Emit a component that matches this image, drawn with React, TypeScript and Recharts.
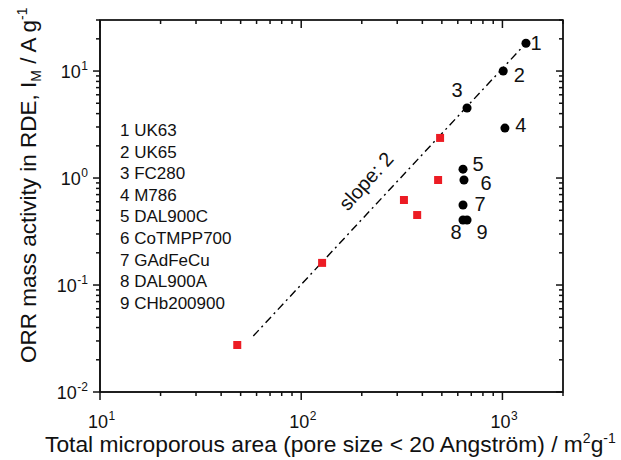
import { LabelList, ReferenceArea, Scatter, ScatterChart, XAxis, YAxis, ZAxis } from "recharts"

const FONT = "'Liberation Sans', Arial, sans-serif"
const AXIS = "#111"
const RED = "#ec1c24"

// catalysts with labels 1..9 (black circles)
const catalystNames = ["UK63", "UK65", "FC280", "M786", "DAL900C", "CoTMPP700", "GAdFeCu", "DAL900A", "CHb200900"]
const catalystArea = [1309, 1009, 667, 1029, 637, 644, 637, 637, 667]
const catalystActivity = [18.2, 10.0, 4.51, 2.93, 1.21, 0.958, 0.56, 0.405, 0.405]

// red squares
const redArea = [48.1, 127, 324, 377, 479, 490]
const redActivity = [0.0275, 0.161, 0.623, 0.451, 0.958, 2.37]

// slope 2 guide line end points
const slopeArea = [57.8, 1309]
const slopeActivity = [0.0334, 18.2]

const xTicks = [10, 20, 30, 40, 50, 60, 70, 80, 90, 100, 200, 300, 400, 500, 600, 700, 800, 900, 1000, 2000]
const yTicks = [
  0.01, 0.02, 0.03, 0.04, 0.05, 0.06, 0.07, 0.08, 0.09,
  0.1, 0.2, 0.3, 0.4, 0.5, 0.6, 0.7, 0.8, 0.9,
  1, 2, 3, 4, 5, 6, 7, 8, 9,
  10, 20, 30,
]

// label offset (dx, dy) of each number relative to its point
const numberOffsets = [
  [10, 0], [16, 4], [-10, -18], [16, -3], [15, -5], [22, 3], [17, -1], [-7, 12], [15, 12],
]

const catalystData = catalystArea.map((x, i) => ({ x, y: catalystActivity[i], id: i + 1 }))
const redData = redArea.map((x, i) => ({ x, y: redActivity[i] }))
const slopeData = slopeArea.map((x, i) => ({ x, y: slopeActivity[i] }))

// plot box size (chart 613x452, margins + axis sizes below)
const PLOT_W = 463
const PLOT_H = 372

const isMajor = (v: number) => Math.abs(Math.log10(v) - Math.round(Math.log10(v))) < 1e-6
const exponent = (v: number) => String(Math.round(Math.log10(v)))
const expWidth = (s: string) => s.length * 6.7 - (s.startsWith("-") ? 2.7 : 0)

// bottom ticks point down, top ones (mirrored) point down into the plot
const bottomTick = (props: any) => {
  const { x, y, payload } = props
  const major = isMajor(payload.value)
  const len = major ? 8 : 4
  return (
    <g>
      <line x1={x} x2={x} y1={y} y2={y + len} stroke={AXIS} strokeWidth={1.5} />
      <line x1={x} x2={x} y1={y - PLOT_H} y2={y - PLOT_H + len} stroke={AXIS} strokeWidth={1.5} />
      {major && (
        <text x={x + 8} y={y + 36} textAnchor="end" fontSize={18} fill="#111" fontFamily={FONT}>
          10
        </text>
      )}
      {major && (
        <text x={x + 8.5} y={y + 28} fontSize={12} fill="#111" fontFamily={FONT}>
          {exponent(payload.value)}
        </text>
      )}
    </g>
  )
}

// left ticks point out, right ones (mirrored) point into the plot
const leftTick = (props: any) => {
  const { x, y, payload } = props
  const major = isMajor(payload.value)
  const len = major ? 7 : 4
  const exp = exponent(payload.value)
  return (
    <g>
      <line x1={x} x2={x - len} y1={y} y2={y} stroke={AXIS} strokeWidth={1.5} />
      <line x1={x + PLOT_W} x2={x + PLOT_W - len} y1={y} y2={y} stroke={AXIS} strokeWidth={1.5} />
      {major && (
        <text x={x - 12 - expWidth(exp) - 0.5} y={y + 6.5} textAnchor="end" fontSize={18} fill="#111" fontFamily={FONT}>
          10
        </text>
      )}
      {major && (
        <text x={x - 12} y={y - 1.5} textAnchor="end" fontSize={12} fill="#111" fontFamily={FONT}>
          {exp}
        </text>
      )}
    </g>
  )
}

const numberLabel = (props: any) => {
  const vb = props.viewBox && props.viewBox.width != null ? props.viewBox : props
  const cx = vb.x + vb.width / 2
  const cy = vb.y + vb.height / 2
  const id = Number(props.value)
  const [dx, dy] = numberOffsets[id - 1] || [10, 0]
  return (
    <text x={cx + dx} y={cy + dy + 7} textAnchor="middle" fontSize={20} fill="#111" fontFamily={FONT}>
      {id}
    </text>
  )
}

export default function App() {
  return (
    <>
      <ScatterChart width={613} height={452} margin={{ top: 2, right: 48, bottom: 0, left: 0 }}>
        <XAxis
          dataKey="x"
          type="number"
          scale="log"
          domain={[10, 2000]}
          allowDataOverflow
          ticks={xTicks}
          interval={0}
          height={68}
          tickSize={0}
          tickMargin={0}
          tickLine={false}
          axisLine={{ stroke: AXIS, strokeWidth: 1.6 }}
          tick={bottomTick}
        />
        <XAxis
          xAxisId="top"
          dataKey="x"
          orientation="top"
          type="number"
          scale="log"
          domain={[10, 2000]}
          allowDataOverflow
          ticks={xTicks}
          interval={0}
          height={10}
          tickSize={5}
          tickLine={{ stroke: AXIS }}
          tick={false}
          stroke={AXIS}
        />
        <YAxis
          dataKey="y"
          type="number"
          scale="log"
          domain={[0.01, 30]}
          allowDataOverflow
          ticks={yTicks}
          interval={0}
          width={92}
          tickSize={0}
          tickMargin={0}
          tickLine={false}
          axisLine={{ stroke: AXIS, strokeWidth: 1.6 }}
          tick={leftTick}
        />
        <YAxis
          yAxisId="right"
          dataKey="y"
          orientation="right"
          type="number"
          scale="log"
          domain={[0.01, 30]}
          allowDataOverflow
          ticks={yTicks}
          interval={0}
          width={10}
          tickSize={5}
          tickLine={{ stroke: AXIS }}
          tick={false}
          stroke={AXIS}
        />
        <ZAxis range={[113, 113]} />
        <ReferenceArea
          x1={10}
          x2={2000}
          y1={0.01}
          y2={30}
          fill="none"
          fillOpacity={0}
          stroke={AXIS}
          strokeWidth={1.6}
          ifOverflow="visible"
        />
        <Scatter
          xAxisId="top"
          yAxisId="right"
          data={slopeData}
          isAnimationActive={false}
          line={{ stroke: "#000", strokeWidth: 1.4, strokeDasharray: "8 4 2 4" }}
          shape={() => <g />}
        />
        <Scatter data={redData} isAnimationActive={false} shape="square" fill={RED} />
        <Scatter data={catalystData} isAnimationActive={false} shape="circle" fill="#000">
          <LabelList dataKey="id" content={numberLabel} />
        </Scatter>
      </ScatterChart>

      <svg
        width={613}
        height={452}
        style={{ position: "absolute", left: 8, top: 8, pointerEvents: "none" }}
        fontFamily={FONT}
        fill="#111"
      >
        <text transform="translate(358,173) rotate(-48)" y={7} textAnchor="middle" fontSize={20}>
          slope: 2
        </text>
        {catalystNames.map((name, i) => (
          <text key={name} x={112} y={128 + i * 21.6} fontSize={17}>
            {i + 1} {name}
          </text>
        ))}
        <text x={37} y={444} fontSize={22.8}>
          Total microporous area (pore size &lt; 20 Angström) / m
          <tspan dy={-9} fontSize={14}>2</tspan>
          <tspan dy={9}>g</tspan>
          <tspan dy={-9} fontSize={14}>-1</tspan>
        </text>
        <text transform="translate(28,355) rotate(-90)" fontSize={22.5}>
          ORR mass activity in RDE, I
          <tspan dy={5} fontSize={14}>M</tspan>
          <tspan dy={-5}> / A g</tspan>
          <tspan dy={-9} fontSize={14}>-1</tspan>
        </text>
      </svg>
    </>
  )
}
